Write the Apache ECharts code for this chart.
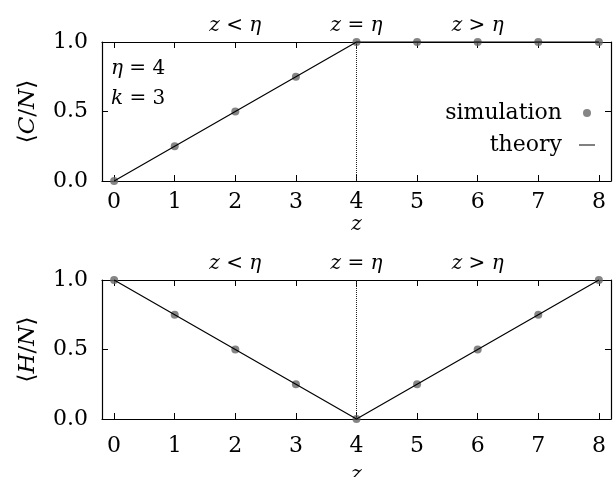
<!DOCTYPE html>
<html>
<head>
<meta charset="utf-8">
<script src="https://cdn.jsdelivr.net/npm/echarts@6/dist/echarts.min.js"></script>
<style>html,body{margin:0;padding:0;background:#fff;}#c{width:614px;height:477px;}</style>
</head>
<body>
<div id="c"></div>
<script>
const zValues = [0, 1, 2, 3, 4, 5, 6, 7, 8];
const simC = [0, 0.25, 0.5, 0.75, 1, 1, 1, 1, 1];
const theoryC = [0, 0.25, 0.5, 0.75, 1, 1, 1, 1, 1];
const simH = [1, 0.75, 0.5, 0.25, 0, 0.25, 0.5, 0.75, 1];
const theoryH = [1, 0.75, 0.5, 0.25, 0, 0.25, 0.5, 0.75, 1];
const xTicks = [0, 1, 2, 3, 4, 5, 6, 7, 8];
const yTicks = [0, 0.5, 1];
const regionPos = [2, 4, 6];
const regionLabels = ['{i|z} < {i|η}', '{i|z} = {i|η}', '{i|z} > {i|η}'];
const eta = 4;

const FONT = '"DejaVu Serif", "Liberation Serif", serif';
const axColor = '#000';
const rich = { i: { fontFamily: FONT, fontStyle: 'italic', fontSize: 20, color: '#000' } };

function pair(arr) { return zValues.map((z, i) => [z, arr[i]]); }

const grids = [
  { left: 102, top: 42, width: 509, height: 139, outerBoundsMode: 'none', containLabel: false },
  { left: 102, top: 280, width: 509, height: 139, outerBoundsMode: 'none', containLabel: false }
];

const xAxes = [], yAxes = [];
[0, 1].forEach(g => {
  xAxes.push({
    type: 'value', gridIndex: g, min: -0.2, max: 8.2, position: 'bottom',
    name: 'z', nameLocation: 'middle', nameGap: g === 0 ? 34 : 46,
    nameTextStyle: { fontFamily: FONT, fontStyle: 'italic', fontSize: 20, color: '#000' },
    axisLine: { onZero: false, lineStyle: { color: axColor, width: 1.2 } },
    axisTick: { inside: true, length: 6, customValues: xTicks, lineStyle: { color: axColor, width: 1 } },
    axisLabel: { customValues: xTicks, fontFamily: FONT, fontSize: 22, color: '#000', margin: g === 0 ? 10 : 16 },
    splitLine: { show: false }
  });
  xAxes.push({
    type: 'value', gridIndex: g, min: -0.2, max: 8.2, position: 'top',
    axisLine: { onZero: false, lineStyle: { color: axColor, width: 1.2 } },
    axisTick: { inside: true, length: 6, customValues: xTicks, lineStyle: { color: axColor, width: 1 } },
    axisLabel: {
      customValues: regionPos, margin: 6,
      formatter: v => regionLabels[regionPos.indexOf(v)] || '',
      fontFamily: FONT, fontSize: 20, color: '#000', rich: rich
    },
    splitLine: { show: false }
  });
  yAxes.push({
    type: 'value', gridIndex: g, min: 0, max: 1, position: 'left',
    name: g === 0 ? '⟨{i|C}/{i|N}⟩' : '⟨{i|H}/{i|N}⟩',
    nameLocation: 'middle', nameRotate: 90, nameGap: 62,
    nameTextStyle: { fontFamily: FONT, fontSize: 23, color: '#000', rich: { i: { fontFamily: FONT, fontStyle: 'italic', fontSize: 23, color: '#000' } } },
    axisLine: { onZero: false, lineStyle: { color: axColor, width: 1.2 } },
    axisTick: { inside: true, length: 6, customValues: yTicks, lineStyle: { color: axColor, width: 1 } },
    axisLabel: { customValues: yTicks, formatter: v => v.toFixed(1), fontFamily: FONT, fontSize: 22, color: '#000', margin: 14 },
    splitLine: { show: false }
  });
  yAxes.push({
    type: 'value', gridIndex: g, min: 0, max: 1, position: 'right',
    axisLine: { onZero: false, lineStyle: { color: axColor, width: 1.2 } },
    axisTick: { inside: true, length: 6, customValues: yTicks, lineStyle: { color: axColor, width: 1 } },
    axisLabel: { show: false },
    splitLine: { show: false }
  });
});

const dotStyle = { color: '#666' };
const markVert = {
  silent: true, symbol: 'none', label: { show: false },
  lineStyle: { type: 'dotted', color: '#222', width: 1 },
  data: [{ xAxis: eta }]
};

const option = {
  animation: false,
  backgroundColor: '#fff',
  grid: grids,
  xAxis: xAxes,
  yAxis: yAxes,
  legend: {
    orient: 'vertical', right: 14, top: 97, align: 'right',
    itemWidth: 16, itemHeight: 8, itemGap: 10,
    textStyle: { fontFamily: FONT, fontSize: 22, color: '#000', padding: [0, 12, 0, 0] },
    data: [
      { name: 'simulation', icon: 'circle', itemStyle: { color: '#666' } },
      { name: 'theory', icon: 'path://M0,0 L16,0 L16,1 L0,1 Z', itemStyle: { color: '#000' } }
    ]
  },
  graphic: [
    { type: 'text', left: 111, top: 59, style: { text: '{i|η} = 4', rich: rich, fontFamily: FONT, fontSize: 20, fill: '#000' } },
    { type: 'text', left: 111, top: 89, style: { text: '{i|k} = 3', rich: rich, fontFamily: FONT, fontSize: 20, fill: '#000' } }
  ],
  series: [
    { name: 'simulation', type: 'scatter', xAxisIndex: 0, yAxisIndex: 0, data: pair(simC), symbolSize: 8, itemStyle: dotStyle, clip: false, z: 3 },
    { name: 'theory', type: 'line', xAxisIndex: 0, yAxisIndex: 0, data: pair(theoryC), symbol: 'none', lineStyle: { color: '#000', width: 1.2 }, clip: false, z: 4, markLine: markVert },
    { name: 'simulation', type: 'scatter', xAxisIndex: 2, yAxisIndex: 2, data: pair(simH), symbolSize: 8, itemStyle: dotStyle, clip: false, z: 3 },
    { name: 'theory', type: 'line', xAxisIndex: 2, yAxisIndex: 2, data: pair(theoryH), symbol: 'none', lineStyle: { color: '#000', width: 1.2 }, clip: false, z: 4, markLine: markVert }
  ]
};

const chart = echarts.init(document.getElementById('c'), null, { renderer: 'canvas' });
chart.setOption(option);
</script>
</body>
</html>
